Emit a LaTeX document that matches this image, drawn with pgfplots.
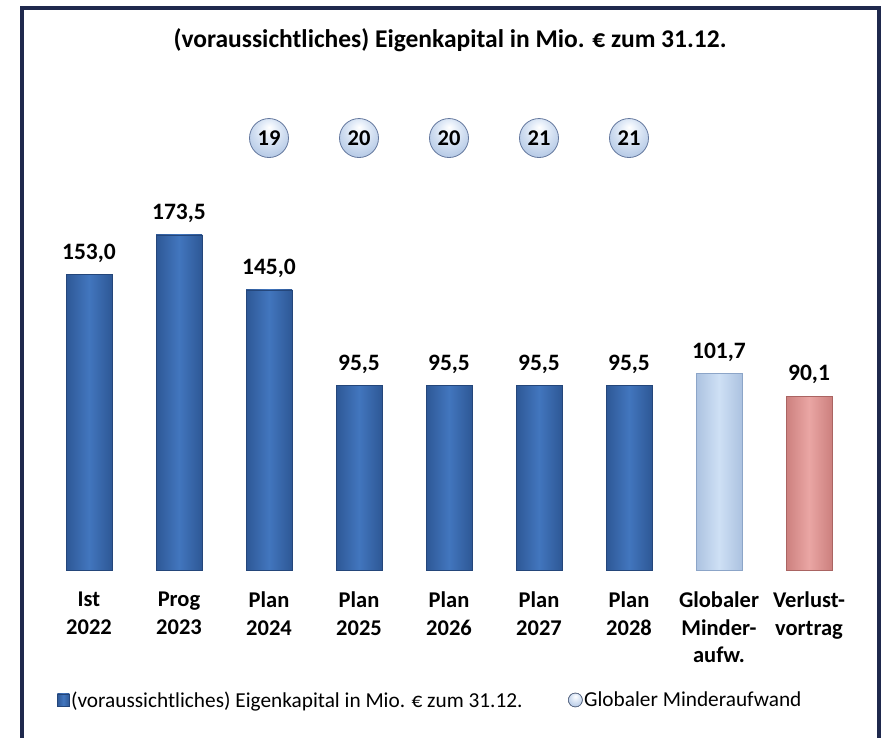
\documentclass[border=0pt]{standalone}
\usepackage{pgfplots}
\pgfplotsset{compat=1.18}
\usepackage{fontspec}
\setmainfont{Carlito}
\definecolor{framecol}{RGB}{31,41,77}
\definecolor{blueM}{RGB}{66,118,190}
\definecolor{blueD}{RGB}{46,88,150}
\definecolor{blueE}{RGB}{36,70,122}
\definecolor{lbM}{RGB}{206,224,245}
\definecolor{lbD}{RGB}{172,194,224}
\definecolor{lbE}{RGB}{140,165,200}
\definecolor{rdM}{RGB}{234,166,164}
\definecolor{rdD}{RGB}{204,128,126}
\definecolor{rdE}{RGB}{170,100,98}
\definecolor{bubL}{RGB}{230,238,249}
\definecolor{bubM}{RGB}{182,202,230}
\definecolor{bubD}{RGB}{140,162,198}
\definecolor{bubE}{RGB}{100,120,158}
\pgfdeclareradialshading{bub}{\pgfpoint{0bp}{14bp}}{color(0bp)=(white); color(10bp)=(bubL); color(30bp)=(bubM); color(44bp)=(bubD); color(50bp)=(bubE)}
\pgfdeclareplotmark{bub}{%
  \pgfpathcircle{\pgfpointorigin}{\pgfplotmarksize}%
  \pgfshadepath{bub}{0}\pgfusepath{discard}%
  \pgfpathcircle{\pgfpointorigin}{\pgfplotmarksize}%
  \pgfsetlinewidth{0.8pt}\pgfsetstrokecolor{bubE}\pgfusepath{stroke}}
\pgfplotsset{
  bluebar/.style={ybar, bar shift=0pt, draw=blueE, left color=blueD, right color=blueD, middle color=blueM},
}
\begin{document}
\begin{tikzpicture}
\path[use as bounding box] (0pt,0pt) rectangle (881pt,738pt);
\draw[framecol, line width=4pt] (21.5pt,-10pt) -- (21.5pt,730pt) -- (879pt,730pt) -- (879pt,-10pt);
\node[font=\fontsize{25.5}{30}\selectfont\bfseries, anchor=base, inner sep=0pt] at (450pt,690pt) {(voraussichtliches) Eigenkapital in Mio. € zum 31.12.};
\begin{axis}[
  at={(44pt,168pt)}, anchor=south west,
  scale only axis, width=810pt, height=463.44pt,
  xmin=-0.5, xmax=8.5, ymin=0, ymax=240,
  clip=false,
  axis line style={draw=none}, tick style={draw=none},
  ytick=\empty,
  xtick={0,1,2,3,4,5,6,7,8},
  xticklabels={{Ist\\2022},{Prog\\2023},{Plan\\2024},{Plan\\2025},{Plan\\2026},{Plan\\2027},{Plan\\2028},{Globaler\\Minder-\\aufw.},{Verlust-\\vortrag}},
  xticklabel style={align=center, font=\fontsize{22.5}{27.5}\selectfont\bfseries, anchor=north, inner sep=0pt, yshift=-22pt},
  bar width=46pt,
  legend columns=2,
  legend cell align=left,
  legend style={at={(0.016,-0.2805)}, anchor=west, draw=none, fill=none, inner sep=0pt,
    font=\fontsize{21.3}{25}\selectfont, nodes={inner sep=1.5pt},
    /tikz/every even column/.append style={column sep=44pt}},
]
\addplot[bluebar,
  legend image code/.code={\draw[draw=blueE, left color=blueD, right color=blueD, middle color=blueM] (0pt,-6pt) rectangle (12pt,6pt);}]
  coordinates {(0,153.0)};
\addlegendentry{(voraussichtliches) Eigenkapital in Mio. € zum 31.12.}
\addplot[bluebar, forget plot] coordinates {(1,173.5)};
\addplot[bluebar, forget plot] coordinates {(2,145.0)};
\addplot[bluebar, forget plot] coordinates {(3,95.5)};
\addplot[bluebar, forget plot] coordinates {(4,95.5)};
\addplot[bluebar, forget plot] coordinates {(5,95.5)};
\addplot[bluebar, forget plot] coordinates {(6,95.5)};
\addplot[ybar, bar shift=0pt, forget plot, draw=lbE, left color=lbD, right color=lbD, middle color=lbM]
  coordinates {(7,101.7)};
\addplot[ybar, bar shift=0pt, forget plot, draw=rdE, left color=rdD, right color=rdD, middle color=rdM]
  coordinates {(8,90.1)};
% value labels
\addplot[only marks, mark=none, forget plot, point meta=y,
  nodes near coords={\pgfmathprintnumber[fixed,fixed zerofill,precision=1,use comma,assume math mode=true]{\pgfplotspointmeta}},
  every node near coord/.append style={font=\fontsize{23.5}{28}\selectfont\bfseries, text=black, inner sep=0pt, anchor=south, yshift=12pt}]
  coordinates {(0,153.0) (1,173.5) (2,145.0) (3,95.5) (4,95.5) (5,95.5) (6,95.5) (7,101.7) (8,90.1)};
% bubbles
\addplot[only marks, mark=bub, mark size=19.5pt,
  point meta=explicit symbolic, nodes near coords, nodes near coords align={center},
  every node near coord/.append style={font=\fontsize{22.5}{26}\selectfont\bfseries, text=black, inner sep=0pt, anchor=center},
  legend image code/.code={\shade[shading=bub] (7pt,0pt) circle (7pt); \draw[bubE, line width=0.5pt] (7pt,0pt) circle (7pt);}]
  coordinates {(2,223.7) [19] (3,223.7) [20] (4,223.7) [20] (5,223.7) [21] (6,223.7) [21]};
\addlegendentry{Globaler Minderaufwand}
\end{axis}
\end{tikzpicture}
\end{document}
